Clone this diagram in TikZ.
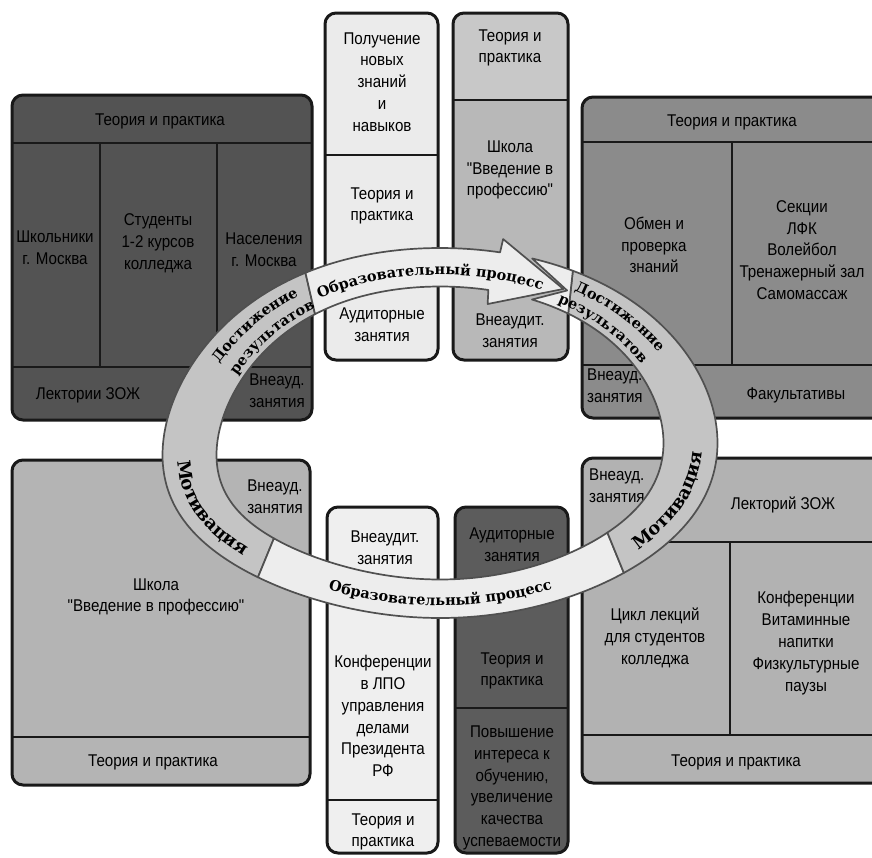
\documentclass[tikz,border=0pt]{standalone}
\usepackage{fontspec}
\setmainfont{Liberation Sans}[FakeStretch=0.89, Ligatures=TeXOff]
\newfontfamily\ringfont{DejaVu Serif}
\usetikzlibrary{decorations.text}
\definecolor{tlfill}{HTML}{535353}
\definecolor{tmone}{HTML}{EBEBEB}
\definecolor{tmtwo}{HTML}{B8B8B8}
\definecolor{tmtwoh}{HTML}{C8C8C8}
\definecolor{trfill}{HTML}{8B8B8B}
\definecolor{blfill}{HTML}{B4B4B4}
\definecolor{bmone}{HTML}{EFEFEF}
\definecolor{bmtwo}{HTML}{5C5C5C}
\definecolor{brfill}{HTML}{B2B2B2}
\definecolor{bandlight}{HTML}{EDEDED}
\definecolor{banddark}{HTML}{C4C4C4}
\definecolor{bandline}{HTML}{505050}
\begin{document}
\begin{tikzpicture}[x=1pt,y=-1pt,
  declare function={
    ex(\p,\q)=440+(223.5+54*\q)*cos(\p);
    ey(\p,\q)=433-(146.5+38.5*\q)*sin(\p)+16*cos(\p)*cos(\p)*cos(\p)*cos(\p)-6*cos(\p)*cos(\p)*cos(\p);
  },
  box/.style={draw=black!90, line width=3pt, rounded corners=11pt},
  dline/.style={draw=black!90, line width=2.4pt},
  lbl/.style={font=\fontsize{17}{21.8}\selectfont, align=center, inner sep=0pt, text=black},
  band/.style={draw=bandline, line width=1.7pt, line join=round},
  ringtext/.style={decorate, decoration={text along path, text align=center,
     text={|\ringfont\bfseries\fontsize{14.5}{14.5}\selectfont|#1}}},
  bigringtext/.style={decorate, decoration={text along path, text align=center,
     text={|\ringfont\bfseries\fontsize{18}{18}\selectfont|#1}}}
]
\useasboundingbox (0,0) rectangle (872,857);
\fill[white] (0,0) rectangle (872,857);

% ---------- top-left box
\draw[box, fill=tlfill] (12,95) rectangle (312,420);
\draw[dline] (12,143) -- (312,143);
\draw[dline] (100,143) -- (100,367);
\draw[dline] (217,143) -- (217,367);
\draw[dline] (12,367) -- (312,367);
\node[lbl] (tlh) at (160,121) {Теория и практика};
\node[lbl] (tla) at (55,248) {Школьники\\г. Москва};
\node[lbl] (tlb) at (158,243) {Студенты\\1-2 курсов\\колледжа};
\node[lbl] (tlc) at (264,250) {Населения\\г. Москва};
\node[lbl] (tld) at (88,395) {Лектории ЗОЖ};
\node[lbl] (tle) at (277,391) {Внеауд.\\занятия};

% ---------- top middle column 1
\draw[box, fill=tmone] (325,13) rectangle (438,360);
\draw[dline] (325,155) -- (438,155);
\node[lbl] (ma) at (382,82) {Получение\\новых\\знаний\\и\\навыков};
\node[lbl] (mb) at (382,206) {Теория и\\практика};
\node[lbl] (mc) at (382,325) {Аудиторные\\занятия};

% ---------- top middle column 2
\begin{scope}
\clip[rounded corners=11pt] (453,13) rectangle (568,360);
\fill[tmtwoh] (453,13) rectangle (568,100);
\fill[tmtwo] (453,100) rectangle (568,360);
\end{scope}
\draw[box] (453,13) rectangle (568,360);
\draw[dline] (453,100) -- (568,100);
\node[lbl] (na) at (510,48) {Теория и\\практика};
\node[lbl] (nb) at (510,170) {Школа\\"Введение в\\профессию"};
\node[lbl] (nc) at (510,331) {Внеаудит.\\занятия};

% ---------- top-right box
\draw[box, fill=trfill] (582,97) rectangle (895,418);
\draw[dline] (582,142) -- (895,142);
\draw[dline] (732,142) -- (732,365);
\draw[dline] (582,365) -- (895,365);
\node[lbl] (trh) at (732,122) {Теория и практика};
\node[lbl] (tra) at (654,245) {Обмен и\\проверка\\знаний};
\node[lbl] (trb) at (802,250) {Секции\\ЛФК\\Волейбол\\Тренажерный зал\\Самомассаж};
\node[lbl, align=left, anchor=west] (trc) at (587,386) {Внеауд.\\занятия};
\node[lbl] (trd) at (796,395) {Факультативы};

% ---------- bottom-left box
\draw[box, fill=blfill] (12,460) rectangle (310,785);
\draw[dline] (12,737) -- (310,737);
\node[lbl] (bla) at (275,497) {Внеауд.\\занятия};
\node[lbl] (blb) at (156,597) {Школа\\"Введение в профессию"};
\node[lbl] (blc) at (153,762) {Теория и практика};

% ---------- bottom middle column 1
\draw[box, fill=bmone] (327,507) rectangle (438,853);
\draw[dline] (327,800) -- (438,800);
\node[lbl] (pa) at (385,548) {Внеаудит.\\занятия};
\node[lbl] (pb) at (383,716) {Конференции\\в ЛПО\\управления\\делами\\Президента\\РФ};
\node[lbl] (pc) at (383,832) {Теория и\\практика};

% ---------- bottom middle column 2
\draw[box, fill=bmtwo] (455,507) rectangle (568,853);
\draw[dline] (455,708) -- (568,708);
\node[lbl] (qa) at (512,545) {Аудиторные\\занятия};
\node[lbl] (qb) at (512,671) {Теория и\\практика};
\node[lbl] (qc) at (512,788) {Повышение\\интереса к\\обучению,\\увеличение\\качества\\успеваемости};

% ---------- bottom-right box
\draw[box, fill=brfill] (582,458) rectangle (895,783);
\draw[dline] (600,542) -- (895,542);
\draw[dline] (730,542) -- (730,735);
\draw[dline] (582,735) -- (895,735);
\node[lbl, align=left, anchor=west] (bra) at (589,486) {Внеауд.\\занятия};
\node[lbl] (brb) at (783,505) {Лекторий ЗОЖ};
\node[lbl] (brc) at (655,638) {Цикл лекций\\для студентов\\колледжа};
\node[lbl] (brd) at (806,643) {Конференции\\Витаминные\\напитки\\Физкультурные\\паузы};
\node[lbl] (bre) at (736,762) {Теория и практика};

% ---------- ring
\coordinate (barbup) at ({ex(77.7,1.35)},{ey(77.7,1.35)});
\coordinate (tip) at ({ex(60.5,0.5)},{ey(60.5,0.5)});
\coordinate (barblow) at ({ex(76.5,-0.36)},{ey(76.5,-0.36)});
\coordinate (notch) at ({ex(59.5,0.5)},{ey(59.5,0.5)});

% left grey part
\draw[band, fill=banddark] plot[domain=119:229, samples=80, variable=\t] ({ex(\t,1)},{ey(\t,1)})
  -- plot[domain=222:124, samples=80, variable=\t] ({ex(\t,0)},{ey(\t,0)}) -- cycle;
% bottom light part
\draw[band, fill=bandlight] plot[domain=229:311.5, samples=70, variable=\t] ({ex(\t,1)},{ey(\t,1)})
  -- plot[domain=318.5:222, samples=70, variable=\t] ({ex(\t,0)},{ey(\t,0)}) -- cycle;
% right grey part
\draw[band, fill=banddark] plot[domain=-48.5:61.4, samples=90, variable=\t] ({ex(\t,1)},{ey(\t,1)})
  -- plot[domain=55:-41.5, samples=90, variable=\t] ({ex(\t,0)},{ey(\t,0)}) -- cycle;
% tail notch
\draw[band, fill=bandlight] plot[domain=61.4:70.6, samples=12, variable=\t] ({ex(\t,1)},{ey(\t,1)})
  -- (notch) -- plot[domain=65.7:55, samples=12, variable=\t] ({ex(\t,0)},{ey(\t,0)}) -- cycle;
% top arrow
\draw[band, fill=bandlight] plot[domain=119:77.5, samples=50, variable=\t] ({ex(\t,1)},{ey(\t,1)})
  -- (barbup) -- (tip) -- (barblow)
  -- plot[domain=77.5:124, samples=50, variable=\t] ({ex(\t,0)},{ey(\t,0)}) -- cycle;

% ring texts
\path[ringtext={Образовательный процесс}] plot[domain=132:53, samples=90, variable=\t] ({ex(\t,0.3)},{ey(\t,0.3)});
\path[ringtext={Образовательный процесс}] plot[domain=230:310, samples=90, variable=\t] ({ex(\t,0.68)},{ey(\t,0.68)});
\path[ringtext={Достижение}] plot[domain=162:114, samples=60, variable=\t] ({ex(\t,0.56)},{ey(\t,0.56)});
\path[ringtext={результатов}] plot[domain=162:114, samples=60, variable=\t] ({ex(\t,0.13)},{ey(\t,0.13)});
\path[ringtext={Достижение}] plot[domain=70:16, samples=60, variable=\t] ({ex(\t,0.56)},{ey(\t,0.56)});
\path[ringtext={результатов}] plot[domain=70:16, samples=60, variable=\t] ({ex(\t,0.13)},{ey(\t,0.13)});
\path[bigringtext={Мотивация}] plot[domain=172:230, samples=70, variable=\t] ({ex(\t,0.72)},{ey(\t,0.72)});
\path[bigringtext={Мотивация}] plot[domain=-50:8, samples=70, variable=\t] ({ex(\t,0.72)},{ey(\t,0.72)});
\end{tikzpicture}
\end{document}
